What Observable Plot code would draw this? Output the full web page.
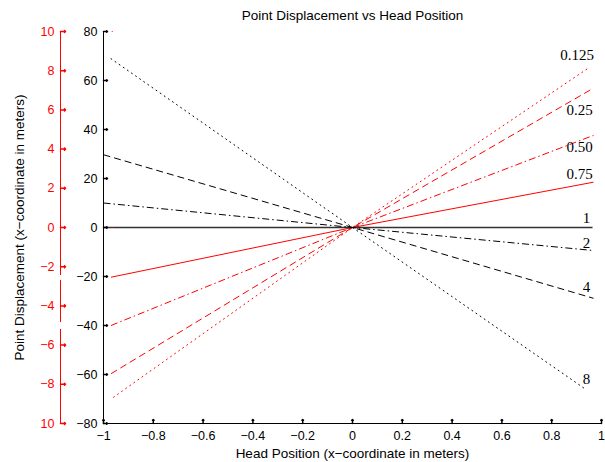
<!DOCTYPE html>
<html><head><meta charset="utf-8">
<script src="https://cdn.jsdelivr.net/npm/d3@7"></script>
<script src="https://cdn.jsdelivr.net/npm/@observablehq/plot@0.6"></script>
<style>body{margin:0;background:#fff} svg{display:block}</style>
</head><body><div id="chart"></div>
<script>
// Series (labels at right of each line)
const seriesLabels = ["0.125", "0.25", "0.50", "0.75", "1", "2", "4", "8"];
// left end, origin, right end of each line
const xLeft  = [-0.96, -0.97, -0.97, -0.97, -1.0, -1.0, -1.0, -0.97];
const yLeft  = [-69.3, -59.7, -40.0, -20.3, 0, 10.0, 29.7, 68.9];
const xRight = [0.952, 0.968, 0.968, 0.968, 0.964, 0.968, 0.968, 0.94];
const yRight = [65.4, 56.9, 37.6, 18.5, 0, -9.4, -28.9, -66.3];
// annotation anchor points for the labels (data coordinates)
const labelX = [0.97, 0.965, 0.965, 0.965, 0.955, 0.955, 0.955, 0.955];
const labelY = [70.2, 47.8, 32.7, 21.6, 3.7, -6.5, -24.5, -62.0];

// Axes
const xTicks = [-1, -0.8, -0.6, -0.4, -0.2, 0, 0.2, 0.4, 0.6, 0.8, 1];
const yTicks = [-80, -60, -40, -20, 0, 20, 40, 60, 80];
const redTicks = [-10, -8, -6, -4, -2, 0, 2, 4, 6, 8, 10];
const redTickLabels = ["10", "\u22128", "\u22126", "\u22124", "\u22122", "0", "2", "4", "6", "8", "10"];
const redRatio = 80 / 10; // black units per red unit
// red axis line pieces (red units), with the small gaps seen in the picture
const redAxisFrom = [10, -2.7, -5.2];
const redAxisTo   = [-2.45, -4.85, -10];
// stray red specks at the left
const speckX = [-0.965, -0.965];
const speckY = [80, 0];

const series = seriesLabels.map((s, i) => ({
  s, pts: [{x: xLeft[i], y: yLeft[i]}, {x: 0, y: 0}, {x: xRight[i], y: yRight[i]}]
}));
const colors = ["#ff0000", "#ff0000", "#ff0000", "#ff0000", "#333", "#000", "#000", "#000"];
const dashes = ["1,4", "7,4", "7,3,1.5,3", null, null, "7,3,1.5,3", "7,4", "1,4"];

const RED_DX = -43;
const font = "Liberation Sans, Arial, sans-serif";

const marks = [];
series.forEach((d, i) => {
  marks.push(Plot.line(d.pts, {x: "x", y: "y", stroke: colors[i], strokeWidth: i === 4 ? 1.3 : 1,
    strokeDasharray: dashes[i], strokeLinecap: dashes[i] === "1,4" ? "round" : "butt"}));
});
marks.push(
  Plot.dot(speckX.map((x, i) => ({x, y: speckY[i]})), {x: "x", y: "y", r: 0.6, fill: "#ff0000", stroke: null}),
  Plot.text(seriesLabels, {x: (d, i) => labelX[i], y: (d, i) => labelY[i], text: d => d, textAnchor: "end",
    fontFamily: "Liberation Serif, Times New Roman, serif", fontSize: 15, fill: "#000"}),
  // black y axis
  Plot.ruleX([-1], {stroke: "#000"}),
  Plot.vector(yTicks, {y: d => d, frameAnchor: "left", length: 4, rotate: 90, anchor: "start", stroke: "#000"}),
  Plot.axisY({ticks: yTicks, tickSize: 0, tickPadding: 6, label: null, fontSize: 12.5, fontFamily: font,
    tickFormat: d => d < 0 ? "\u2212" + Math.abs(d) : String(d), fill: "#000"}),
  // red y axis
  Plot.ruleX(redAxisFrom.map((a, i) => ({a, b: redAxisTo[i]})), {x: -1, y1: d => d.a * redRatio, y2: d => d.b * redRatio, stroke: "#ff0000", dx: RED_DX}),
  Plot.vector(redTicks, {y: d => d * redRatio, frameAnchor: "left", length: 5, rotate: 90, anchor: "start", stroke: "#ff0000", dx: RED_DX}),
  Plot.text(redTicks, {y: d => d * redRatio, text: (d, i) => redTickLabels[i], frameAnchor: "left", textAnchor: "end",
    dx: RED_DX - 6, fill: "#ff0000", fontSize: 12.5, fontFamily: font}),
  // x axis
  Plot.ruleY([-80], {stroke: "#000"}),
  Plot.vector(xTicks, {x: d => d, frameAnchor: "bottom", length: 4, rotate: 0, anchor: "start", stroke: "#000"}),
  Plot.axisX({ticks: xTicks, tickSize: 0, tickPadding: 8, label: null, fontSize: 12.5, fontFamily: font,
    tickFormat: d => d < 0 ? "\u2212" + Math.abs(d) : String(d), fill: "#000"}),
  // titles
  Plot.text(["Point Displacement vs Head Position"], {frameAnchor: "top", lineAnchor: "middle", dy: -16, fontSize: 13.5, fontFamily: font, fill: "#000"}),
  Plot.text(["Head Position (x\u2212coordinate in meters)"], {frameAnchor: "bottom", lineAnchor: "middle", dy: 30, fontSize: 13.5, fontFamily: font, fill: "#000"}),
  Plot.text(["Point Displacement (x\u2212coordinate in meters)"], {frameAnchor: "left", textAnchor: "middle", lineAnchor: "middle", dx: -84, rotate: -90, fontSize: 13.5, fontFamily: font, fill: "#000"})
);

const chart = Plot.plot({
  width: 605, height: 462,
  marginLeft: 103, marginRight: 4, marginTop: 31, marginBottom: 39,
  x: {domain: [-1, 1]},
  y: {domain: [-80, 80]},
  style: {background: "#fff", overflow: "visible"},
  marks
});
document.getElementById("chart").appendChild(chart);
</script>
</body></html>
